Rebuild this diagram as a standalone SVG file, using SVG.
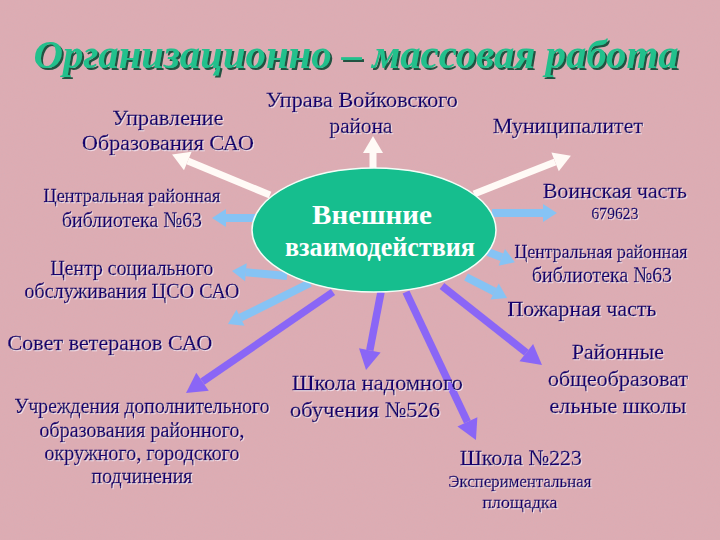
<svg xmlns="http://www.w3.org/2000/svg" width="720" height="540" viewBox="0 0 720 540">
<style>
.lbl{font-family:"Liberation Serif","Times New Roman",serif;fill:#18066c;stroke:#18066c;stroke-width:0.3;text-anchor:middle;filter:url(#halo)}
.l{text-anchor:start}
.w{fill:none;stroke:#fffaf6;stroke-width:7}
.b{fill:none;stroke:#86c3f4;stroke-width:8}
.p{fill:none;stroke:#8a66f6;stroke-width:7.5}
.title{font-family:"Liberation Serif","Times New Roman",serif;font-style:italic;font-weight:bold;font-size:40px;fill:#20c08c;text-anchor:middle}
.ctr{font-family:"Liberation Serif","Times New Roman",serif;font-weight:bold;font-size:28px;fill:#ffffff;text-anchor:middle}
</style>
<defs>
<filter id="noise" x="0" y="0" width="100%" height="100%">
<feTurbulence type="fractalNoise" baseFrequency="0.9" numOctaves="2" seed="3"/>
<feColorMatrix type="matrix" values="0 0 0 0 0.62  0 0 0 0 0.45  0 0 0 0 0.5  0 0 0 1.2 -0.5"/>
</filter>
<filter id="halo" x="-10%" y="-30%" width="120%" height="160%">
<feDropShadow dx="1" dy="1" stdDeviation="0.6" flood-color="#f4e4f0" flood-opacity="0.9"/>
</filter>
<filter id="tshadow" x="-5%" y="-20%" width="110%" height="140%">
<feDropShadow dx="2" dy="2" stdDeviation="0.5" flood-color="#0c4a34" flood-opacity="0.9"/>
</filter>
<marker id="hw" markerUnits="userSpaceOnUse" markerWidth="22" markerHeight="22" refX="0" refY="0" viewBox="0 -11 17 22" orient="auto" overflow="visible"><path d="M0,-10 L17,0 L0,10 Z" fill="#fffaf6"/></marker>
<marker id="hb" markerUnits="userSpaceOnUse" markerWidth="20" markerHeight="20" refX="0" refY="0" viewBox="0 -10 14 20" orient="auto" overflow="visible"><path d="M0,-9 L14,0 L0,9 Z" fill="#86c3f4"/></marker>
<marker id="hp" markerUnits="userSpaceOnUse" markerWidth="24" markerHeight="24" refX="0" refY="0" viewBox="0 -12 20 24" orient="auto" overflow="visible"><path d="M0,-11 L20,0 L0,11 Z" fill="#8a66f6"/></marker>
</defs>
<rect width="720" height="540" fill="#ddacb3"/>
<rect width="720" height="540" filter="url(#noise)" opacity="0.45"/>
<text class="title" x="356" y="68" textLength="645" lengthAdjust="spacingAndGlyphs" filter="url(#tshadow)">Организационно – массовая работа</text>
<g id="connectors">
<path class="w" d="M373,168 L373,153" marker-end="url(#hw)"/>
<path class="w" d="M270,195 L187.8,161.1" marker-end="url(#hw)"/>
<path class="w" d="M474,194 L555.1,161.9" marker-end="url(#hw)"/>
<path class="b" d="M256,218 L226,218" marker-end="url(#hb)"/>
<path class="b" d="M287,276 L245.9,272.3" marker-end="url(#hb)"/>
<path class="b" d="M310,283 L240.5,317.7" marker-end="url(#hb)"/>
<path class="b" d="M492,213 L543,213" marker-end="url(#hb)"/>
<path class="b" d="M488,252 L501.8,257.3" marker-end="url(#hb)"/>
<path class="b" d="M466,277 L494.6,291.6" marker-end="url(#hb)"/>
<path class="p" d="M333,292 L202.5,381.7" marker-end="url(#hp)"/>
<path class="p" d="M381,292 L369.8,350.4" marker-end="url(#hp)"/>
<path class="p" d="M406,292 L467.4,421.9" marker-end="url(#hp)"/>
<path class="p" d="M442,286 L526.3,352.6" marker-end="url(#hp)"/>
</g>
<g id="center">
<ellipse cx="374" cy="230" rx="122" ry="62" fill="#16be8e" stroke="#f2fff8" stroke-width="1.5"/>
<text class="ctr" x="372" y="224" textLength="120" lengthAdjust="spacingAndGlyphs">Внешние</text>
<text class="ctr" x="380" y="256" textLength="190" lengthAdjust="spacingAndGlyphs">взаимодействия</text>
</g>
<g id="uprava"><text class="lbl" font-size="22" x="362" y="107" textLength="192" lengthAdjust="spacingAndGlyphs">Управа Войковского</text><text class="lbl" font-size="22" x="361" y="133" textLength="63" lengthAdjust="spacingAndGlyphs">района</text></g>
<g id="upravlenie"><text class="lbl" font-size="22" x="168" y="125" textLength="111" lengthAdjust="spacingAndGlyphs">Управление</text><text class="lbl" font-size="22" x="168" y="150" textLength="172" lengthAdjust="spacingAndGlyphs">Образования САО</text></g>
<g id="municipalitet"><text class="lbl" font-size="22" x="568" y="133" textLength="150" lengthAdjust="spacingAndGlyphs">Муниципалитет</text></g>
<g id="lib-left"><text class="lbl" font-size="18" x="132" y="202" textLength="177" lengthAdjust="spacingAndGlyphs">Центральная районная</text><text class="lbl" font-size="22" x="132" y="227" textLength="140" lengthAdjust="spacingAndGlyphs">библиотека №63</text></g>
<g id="cso"><text class="lbl" font-size="20" x="132" y="275" textLength="163" lengthAdjust="spacingAndGlyphs">Центр социального</text><text class="lbl" font-size="20" x="132" y="298" textLength="215" lengthAdjust="spacingAndGlyphs">обслуживания ЦСО САО</text></g>
<g id="veterans"><text class="lbl" font-size="22" x="110" y="350" textLength="205" lengthAdjust="spacingAndGlyphs">Совет ветеранов САО</text></g>
<g id="dop"><text class="lbl" font-size="20" x="142" y="413" textLength="255" lengthAdjust="spacingAndGlyphs">Учреждения дополнительного</text><text class="lbl" font-size="20" x="142" y="437" textLength="205" lengthAdjust="spacingAndGlyphs">образования районного,</text><text class="lbl" font-size="20" x="142" y="460" textLength="195" lengthAdjust="spacingAndGlyphs">окружного, городского</text><text class="lbl" font-size="20" x="142" y="483" textLength="101" lengthAdjust="spacingAndGlyphs">подчинения</text></g>
<g id="school526"><text class="lbl l" font-size="22" x="292" y="390" textLength="171" lengthAdjust="spacingAndGlyphs">Школа надомного</text><text class="lbl l" font-size="22" x="290" y="417" textLength="150" lengthAdjust="spacingAndGlyphs">обучения №526</text></g>
<g id="school223"><text class="lbl" font-size="22" x="521" y="465" textLength="122" lengthAdjust="spacingAndGlyphs">Школа №223</text><text class="lbl" font-size="17" x="520" y="487" textLength="143" lengthAdjust="spacingAndGlyphs">Экспериментальная</text><text class="lbl" font-size="17" x="520" y="508" textLength="75" lengthAdjust="spacingAndGlyphs">площадка</text></g>
<g id="schools"><text class="lbl" font-size="22" x="618" y="359" textLength="92" lengthAdjust="spacingAndGlyphs">Районные</text><text class="lbl" font-size="22" x="618" y="386" textLength="140" lengthAdjust="spacingAndGlyphs">общеобразоват</text><text class="lbl" font-size="22" x="618" y="413" textLength="137" lengthAdjust="spacingAndGlyphs">ельные школы</text></g>
<g id="fire"><text class="lbl" font-size="22" x="582" y="316" textLength="149" lengthAdjust="spacingAndGlyphs">Пожарная часть</text></g>
<g id="military"><text class="lbl" font-size="22" x="615" y="198" textLength="144" lengthAdjust="spacingAndGlyphs">Воинская часть</text><text class="lbl" font-size="16" x="615" y="219" textLength="47" lengthAdjust="spacingAndGlyphs">679623</text></g>
<g id="lib-right"><text class="lbl" font-size="18" x="601" y="258" textLength="173" lengthAdjust="spacingAndGlyphs">Центральная районная</text><text class="lbl" font-size="22" x="602" y="282" textLength="140" lengthAdjust="spacingAndGlyphs">библиотека №63</text></g>
</svg>
